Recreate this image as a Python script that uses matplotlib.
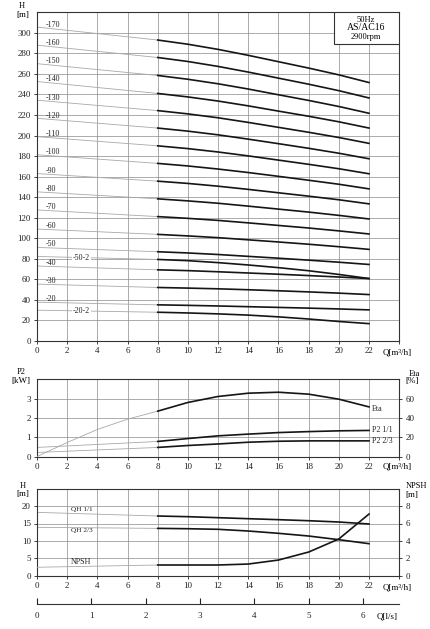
import matplotlib
matplotlib.use('Agg')
import matplotlib.pyplot as plt
import numpy as np
from matplotlib.patches import Rectangle

plt.rcParams['font.family'] = ['Liberation Serif', 'DejaVu Serif']

W, H = 431, 629

# --- head curves per model (Q in m3/h, H in m) ---
Q_MAIN = [0, 8, 10, 12, 14, 16, 18, 20, 22]
MODELS = ['-170', '-160', '-150', '-140', '-130', '-120', '-110', '-100',
          '-90', '-80', '-70', '-60', '-50', '-40', '-30', '-20']
HEADS = [
    [305.6, 293.0, 288.9, 283.9, 278.1, 271.9, 265.7, 259.1, 251.6],
    [288.0, 276.0, 272.1, 267.3, 261.8, 255.9, 250.0, 243.7, 236.6],
    [270.0, 258.5, 254.8, 250.4, 245.3, 239.7, 234.2, 228.3, 221.7],
    [252.6, 241.0, 237.6, 233.6, 228.9, 223.8, 218.8, 213.4, 207.3],
    [234.4, 224.3, 221.1, 217.3, 212.8, 208.0, 203.2, 198.1, 192.4],
    [216.8, 207.3, 204.3, 200.7, 196.5, 192.1, 187.6, 182.8, 177.4],
    [198.9, 190.0, 187.3, 184.0, 180.2, 176.1, 172.0, 167.7, 162.8],
    [181.3, 172.9, 170.4, 167.4, 164.0, 160.3, 156.5, 152.6, 148.1],
    [163.0, 155.6, 153.4, 150.7, 147.6, 144.3, 141.0, 137.5, 133.5],
    [145.2, 138.4, 136.4, 134.1, 131.3, 128.4, 125.5, 122.3, 118.8],
    [127.6, 121.1, 119.4, 117.4, 115.0, 112.5, 110.0, 107.2, 104.2],
    [109.0, 103.8, 102.3, 100.6, 98.5, 96.4, 94.2, 91.8, 89.2],
    [91.1, 86.9, 85.7, 84.2, 82.4, 80.6, 78.7, 76.7, 74.5],
    [73.0, 69.3, 68.5, 67.4, 66.2, 65.0, 63.7, 62.3, 60.8],
    [55.4, 52.1, 51.5, 50.8, 49.9, 48.9, 47.8, 46.6, 45.2],
    [37.8, 35.2, 34.7, 34.1, 33.4, 32.7, 32.0, 31.2, 30.3],
]
MODELS_REDUCED = ['-50-2', '-20-2']
HEADS_REDUCED = [
    [82.3, 79.4, 78.2, 76.3, 74.0, 71.4, 68.4, 64.8, 60.8],
    [30.0, 28.0, 27.3, 26.4, 25.2, 23.5, 21.4, 19.0, 16.9],
]

# --- power / efficiency ---
Q_PWR = [0, 2, 4, 6, 8, 10, 12, 14, 16, 18, 20, 22]
ETA = [0, 14.5, 28.0, 38.7, 47.0, 56.0, 62.2, 65.6, 66.6, 64.6, 59.4, 51.4]
Q_P2 = [0, 8, 10, 12, 14, 16, 18, 20, 22]
P2_FULL = [0.47, 0.78, 0.93, 1.07, 1.16, 1.24, 1.29, 1.33, 1.35]
P2_23 = [0.21, 0.47, 0.57, 0.65, 0.74, 0.79, 0.81, 0.81, 0.81]

# --- single stage head / NPSH ---
Q_STG = [0, 8, 10, 12, 14, 16, 18, 20, 22]
QH_FULL = [18.2, 17.15, 16.96, 16.67, 16.38, 16.1, 15.8, 15.43, 14.86]
QH_23 = [13.9, 13.6, 13.5, 13.33, 12.84, 12.18, 11.4, 10.35, 9.2]
NPSH = [0.97, 1.23, 1.23, 1.23, 1.34, 1.80, 2.72, 4.22, 7.09]

X_TICKS = list(range(0, 25, 2))
X_LABELS = [str(v) for v in range(0, 23, 2)] + ['']
LS_TICKS = [0, 1, 2, 3, 4, 5, 6]

BLACK = '#151515'
GREY = '#a8a8a8'
GRID = '#8a8a8a'
FS = 6.5


def px_axes(fig, left, top, right, bottom):
    return fig.add_axes([left / W, 1 - bottom / H, (right - left) / W, (bottom - top) / H])


def fig_text(fig, x, y, s, **kw):
    kw.setdefault('fontsize', FS)
    fig.text(x / W, 1 - y / H, s, ha=kw.pop('ha', 'center'), va=kw.pop('va', 'center'), **kw)


def style_axes(ax, yticks, ylim):
    ax.set_xlim(0, 24)
    ax.set_ylim(*ylim)
    ax.set_xticks(X_TICKS)
    ax.set_xticklabels(X_LABELS)
    ax.set_yticks(yticks)
    ax.grid(True, color=GRID, linewidth=0.5)
    ax.set_axisbelow(True)
    ax.tick_params(direction='out', length=2.5, width=0.6, labelsize=FS, pad=2, colors='#222')
    for sp in ax.spines.values():
        sp.set_color('#333')
        sp.set_linewidth(0.8)


def style_right(ax, yticks, ylim):
    ax.set_ylim(*ylim)
    ax.set_yticks(yticks)
    ax.tick_params(direction='out', length=2.5, width=0.6, labelsize=FS, pad=2, colors='#222')
    for sp in ax.spines.values():
        sp.set_visible(False)


def draw_curve(ax, q, v, split=8):
    q = np.asarray(q, float)
    v = np.asarray(v, float)
    lo = q <= split
    hi = q >= split
    ax.plot(q[lo], v[lo], color=GREY, linewidth=0.6, zorder=2)
    ax.plot(q[hi], v[hi], color=BLACK, linewidth=1.2, zorder=3)


fig = plt.figure(figsize=(W / 100, H / 100), dpi=100)

# ---------------- main head chart ----------------
ax = px_axes(fig, 37, 12.3, 399.2, 341)
style_axes(ax, range(0, 301, 20), (0, 320))
for name, heads in zip(MODELS, HEADS):
    draw_curve(ax, Q_MAIN, heads)
    y0 = np.interp(0.5, Q_MAIN, heads)
    ax.text(0.55, y0 + 3.2, name, fontsize=5.8, ha='left', va='center', color='#222')
for name, heads in zip(MODELS_REDUCED, HEADS_REDUCED):
    draw_curve(ax, Q_MAIN, heads)
    y0 = np.interp(3.0, Q_MAIN, heads)
    ax.text(2.96, y0, name, fontsize=5.8, ha='center', va='center', color='#222', zorder=4,
            bbox=dict(facecolor='white', edgecolor='none', pad=0.6))

box = Rectangle((19.7, 288.9), 4.3, 31.1, facecolor='white', edgecolor='#333',
                linewidth=0.8, zorder=5)
ax.add_patch(box)
fig_text(fig, 366, 19.5, '50Hz', fontsize=6)
fig_text(fig, 366, 28, 'AS/AC16', fontsize=7)
fig_text(fig, 366, 37, '2900rpm', fontsize=6)

fig_text(fig, 22, 6.5, 'H', fontsize=6)
fig_text(fig, 23, 15, '[m]')
fig_text(fig, 383, 353, 'Q[m³/h]', ha='left')

# ---------------- power / efficiency chart ----------------
axp = px_axes(fig, 37, 379.3, 399.2, 456.5)
style_axes(axp, [0, 1, 2, 3], (0, 4))
draw_curve(axp, Q_P2, P2_FULL)
draw_curve(axp, Q_P2, P2_23)
axe = axp.twinx()
style_right(axe, [0, 20, 40, 60], (0, 80))
draw_curve(axe, Q_PWR, ETA)
axp.text(22.2, 2.45, 'Eta', fontsize=5.8, ha='left', va='center', color='#222')
axp.text(22.2, 1.35, 'P2 1/1', fontsize=5.8, ha='left', va='center', color='#222')
axp.text(22.2, 0.79, 'P2 2/3', fontsize=5.8, ha='left', va='center', color='#222')

fig_text(fig, 21.5, 372.5, 'P2', fontsize=6)
fig_text(fig, 21, 381, '[kW]')
fig_text(fig, 414, 373.5, 'Eta', fontsize=6)
fig_text(fig, 412, 381.5, '[%]')
fig_text(fig, 383, 466, 'Q[m³/h]', ha='left')

# ---------------- stage head / NPSH chart ----------------
axn = px_axes(fig, 37, 488.7, 399.2, 575.7)
style_axes(axn, [0, 5, 10, 15, 20], (0, 25))
draw_curve(axn, Q_STG, QH_FULL)
draw_curve(axn, Q_STG, QH_23)
axr = axn.twinx()
style_right(axr, [0, 2, 4, 6, 8], (0, 10))
draw_curve(axr, Q_STG, NPSH)
axn.text(2.25, 18.9, 'QH 1/1', fontsize=5.2, ha='left', va='center', color='#222')
axn.text(2.25, 12.85, 'QH 2/3', fontsize=5.2, ha='left', va='center', color='#222')
axn.text(2.25, 3.85, 'NPSH', fontsize=5.8, ha='left', va='center', color='#222')

fig_text(fig, 22.3, 485.7, 'H', fontsize=6)
fig_text(fig, 23.3, 494, '[m]')
fig_text(fig, 416.5, 485.7, 'NPSH', fontsize=6)
fig_text(fig, 412, 494.5, '[m]')
fig_text(fig, 383, 587.7, 'Q[m³/h]', ha='left')

# ---------------- Q in l/s scale ----------------
axq = px_axes(fig, 37, 600, 399.2, 604)
axq.set_xlim(0, 24 / 3.6)
axq.set_ylim(0, 1)
axq.set_xticks(LS_TICKS)
axq.set_yticks([])
for side in ('left', 'right', 'top'):
    axq.spines[side].set_visible(False)
axq.spines['bottom'].set_color('#333')
axq.spines['bottom'].set_linewidth(0.8)
axq.tick_params(axis='x', direction='in', length=4, width=0.8, labelsize=FS, pad=6, colors='#222')
axq.patch.set_alpha(0)
fig_text(fig, 377, 616, 'Q[l/s]', ha='left')

fig.savefig('out.png', dpi=100)
